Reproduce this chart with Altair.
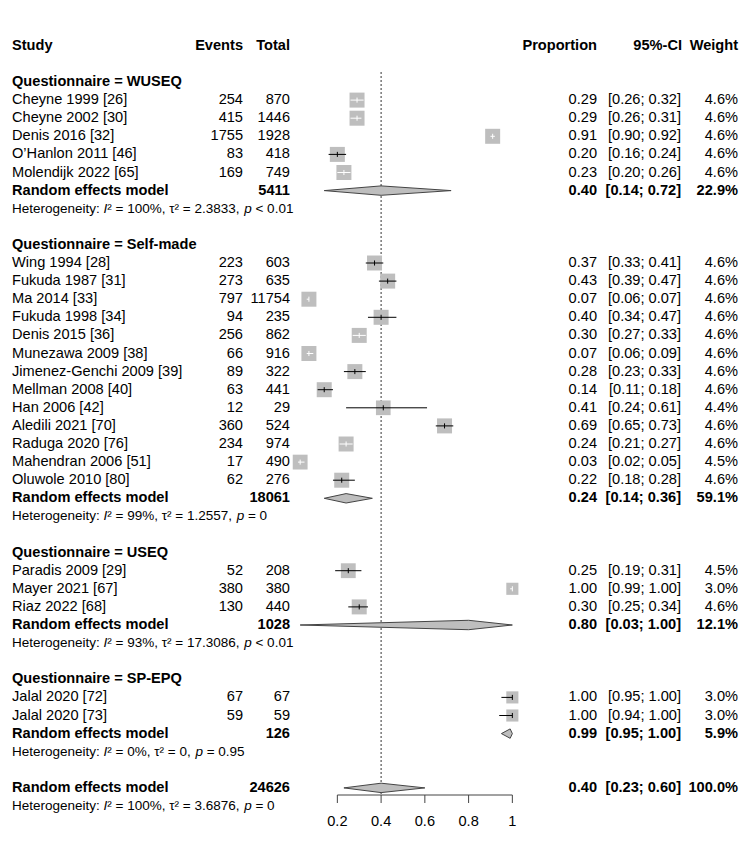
import altair as alt
import pandas as pd

# ---------------- data ----------------
groups = ["WUSEQ", "Self-made", "USEQ", "SP-EPQ"]
study_group = ["WUSEQ"] * 5 + ["Self-made"] * 13 + ["USEQ"] * 3 + ["SP-EPQ"] * 2
studies = [
    "Cheyne 1999 [26]", "Cheyne 2002 [30]", "Denis 2016 [32]", "O\u2019Hanlon 2011 [46]", "Molendijk 2022 [65]",
    "Wing 1994 [28]", "Fukuda 1987 [31]", "Ma 2014 [33]", "Fukuda 1998 [34]", "Denis 2015 [36]",
    "Munezawa 2009 [38]", "Jimenez-Genchi 2009 [39]", "Mellman 2008 [40]", "Han 2006 [42]",
    "Aledili 2021 [70]", "Raduga 2020 [76]", "Mahendran 2006 [51]", "Oluwole 2010 [80]",
    "Paradis 2009 [29]", "Mayer 2021 [67]", "Riaz 2022 [68]",
    "Jalal 2020 [72]", "Jalal 2020 [73]",
]
events = [254, 415, 1755, 83, 169,
          223, 273, 797, 94, 256, 66, 89, 63, 12, 360, 234, 17, 62,
          52, 380, 130,
          67, 59]
totals = [870, 1446, 1928, 418, 749,
          603, 635, 11754, 235, 862, 916, 322, 441, 29, 524, 974, 490, 276,
          208, 380, 440,
          67, 59]
prop = [0.29, 0.29, 0.91, 0.20, 0.23,
        0.37, 0.43, 0.07, 0.40, 0.30, 0.07, 0.28, 0.14, 0.41, 0.69, 0.24, 0.03, 0.22,
        0.25, 1.00, 0.30,
        1.00, 1.00]
lower = [0.26, 0.26, 0.90, 0.16, 0.20,
         0.33, 0.39, 0.06, 0.34, 0.27, 0.06, 0.23, 0.11, 0.24, 0.65, 0.21, 0.02, 0.18,
         0.19, 0.99, 0.25,
         0.95, 0.94]
upper = [0.32, 0.31, 0.92, 0.24, 0.26,
         0.41, 0.47, 0.07, 0.47, 0.33, 0.09, 0.33, 0.18, 0.61, 0.73, 0.27, 0.05, 0.28,
         0.31, 1.00, 0.34,
         1.00, 1.00]
weight = [4.6, 4.6, 4.6, 4.6, 4.6,
          4.6, 4.6, 4.6, 4.6, 4.6, 4.6, 4.6, 4.6, 4.4, 4.6, 4.6, 4.5, 4.6,
          4.5, 3.0, 4.6,
          3.0, 3.0]

group_total = [5411, 18061, 1028, 126]
group_prop = [0.40, 0.24, 0.80, 0.99]
group_lower = [0.14, 0.14, 0.03, 0.95]
group_upper = [0.72, 0.36, 1.00, 1.00]
group_weight = [22.9, 59.1, 12.1, 5.9]
group_i2 = ["100%", "99%", "93%", "0%"]
group_tau2 = ["2.3833", "1.2557", "17.3086", "0"]
group_p = ["< 0.01", "= 0", "< 0.01", "= 0.95"]

overall_total = 24626
overall_prop = 0.40
overall_lower = 0.23
overall_upper = 0.60
overall_weight = 100.0
overall_i2 = "100%"
overall_tau2 = "3.6876"
overall_p = "= 0"

tick_values = [0.2, 0.4, 0.6, 0.8, 1.0]
tick_labels = ["0.2", "0.4", "0.6", "0.8", "1"]

# ---------------- layout helpers ----------------
FONT = "Liberation Sans"
FS = 14.6
FS_HET = 13.5
STUDY_X, EVENTS_X, TOTAL_X = 4, 235, 282
PROP_X, CI_X, WEIGHT_X = 589, 673, 730
X_RANGE = [285.6, 504.35]
PX_PER_UNIT = X_RANGE[1] - X_RANGE[0]
Y_RANGE = [74, 798]
ROW_PX = (Y_RANGE[1] - Y_RANGE[0]) / 40.0
SQ_FULL = 225.0  # square area at 4.6%

W = {' ': 278, ':': 278, ',': 278, '.': 278, '=': 584, '<': 584, '%': 889, '\u00b2': 333,
     '\u03c4': 470, 'H': 722, 'e': 556, 't': 278, 'r': 333, 'o': 556, 'g': 556, 'n': 556,
     'i': 222, 'y': 500, 'I': 278, 'p': 556}


def tw(s, size):
    return sum(W.get(c, 556) for c in s) * size / 1000.0


texts = []    # row, px, txt, kind
sq = []       # studies
diam = []     # summary diamonds


def add_text(row, px, txt, kind):
    texts.append(dict(row=row, px=px, txt=txt, kind=kind))


def add_het(row, i2, tau2, p):
    x = STUDY_X
    seg0 = "Heterogeneity: "
    add_text(row, x, seg0.strip(), "het")
    x += tw(seg0, FS_HET)
    add_text(row, x, "I", "het_i")
    x += tw("I", FS_HET)
    seg2 = "\u00b2 = " + i2 + ", \u03c4\u00b2 = " + tau2 + ", "
    add_text(row, x, seg2.strip(), "het")
    x += tw(seg2, FS_HET)
    add_text(row, x, "p", "het_i")
    x += tw("p ", FS_HET)
    add_text(row, x, p, "het")


def add_summary(row, label, total, est, lo, hi, w, key):
    add_text(row, STUDY_X, label, "bold_l")
    add_text(row, TOTAL_X, str(total), "bold_r")
    add_text(row, PROP_X, f"{est:.2f}", "bold_r")
    add_text(row, CI_X, f"[{lo:.2f}; {hi:.2f}]", "bold_r")
    add_text(row, WEIGHT_X, f"{w:.1f}%", "bold_r")
    h = 0.26
    diam.extend([
        dict(key=key, x=lo, y=row, y2=row),
        dict(key=key, x=est, y=row - h, y2=row + h),
        dict(key=key, x=hi, y=row, y2=row),
    ])


# header
add_text(-2, STUDY_X, "Study", "bold_l")
add_text(-2, EVENTS_X, "Events", "bold_r")
add_text(-2, TOTAL_X, "Total", "bold_r")
add_text(-2, PROP_X, "Proportion", "bold_r")
add_text(-2, CI_X + 1, "95%-CI", "bold_r")
add_text(-2, WEIGHT_X, "Weight", "bold_r")

row = 0
for gi, g in enumerate(groups):
    add_text(row, STUDY_X, "Questionnaire = " + g, "bold_l")
    row += 1
    for i, sg in enumerate(study_group):
        if sg != g:
            continue
        add_text(row, STUDY_X, studies[i], "plain_l")
        add_text(row, EVENTS_X, str(events[i]), "plain_r")
        add_text(row, TOTAL_X, str(totals[i]), "plain_r")
        add_text(row, PROP_X, f"{prop[i]:.2f}", "plain_r")
        add_text(row, CI_X, f"[{lower[i]:.2f}; {upper[i]:.2f}]", "plain_r")
        add_text(row, WEIGHT_X, f"{weight[i]:.1f}%", "plain_r")
        side = (SQ_FULL * weight[i] / 4.6) ** 0.5
        hw = side / 2.0 / PX_PER_UNIT
        inside = lower[i] >= prop[i] - hw and upper[i] <= prop[i] + hw
        sq.append(dict(row=row, p=prop[i], lo=lower[i], hi=upper[i], w=weight[i],
                       lc="white" if inside else "black",
                       t1=row - 0.14, t2=row + 0.14))
        row += 1
    add_summary(row, "Random effects model", group_total[gi], group_prop[gi],
                group_lower[gi], group_upper[gi], group_weight[gi], g)
    row += 1
    add_het(row, group_i2[gi], group_tau2[gi], group_p[gi])
    row += 2

add_summary(row, "Random effects model", overall_total, overall_prop,
            overall_lower, overall_upper, overall_weight, "overall")
add_het(row + 1, overall_i2, overall_tau2, overall_p)

axis_row = (795 - 8 - Y_RANGE[0]) / ROW_PX
tick_end = axis_row + 8 / ROW_PX
label_row = axis_row + 27 / ROW_PX
top_row = (72 - 8 - Y_RANGE[0]) / ROW_PX

texts_df = pd.DataFrame(texts)
sq_df = pd.DataFrame(sq)
diam_df = pd.DataFrame(diam)
ticks_df = pd.DataFrame(dict(v=tick_values, lab=tick_labels, y=axis_row, y2=tick_end, ly=label_row))
axis_df = pd.DataFrame(dict(x=[min(tick_values)], x2=[max(tick_values)], y=[axis_row]))
ref_df = pd.DataFrame(dict(x=[overall_prop], y=[top_row], y2=[axis_row]))

xs = alt.Scale(domain=[0, 1], range=X_RANGE, nice=False, zero=False)
ys = alt.Scale(domain=[0, 40], range=Y_RANGE, nice=False, zero=False)


def X(f):
    return alt.X(f, scale=xs, axis=None)


def Y(f):
    return alt.Y(f, scale=ys, axis=None)


def text_layer(kind, align, fw="normal", style="normal", size=FS):
    return alt.Chart(texts_df).transform_filter(alt.datum.kind == kind).mark_text(
        align=align, baseline="middle", font=FONT, fontSize=size, fontWeight=fw,
        fontStyle=style, color="black"
    ).encode(
        x=alt.X("px:Q", scale=None, axis=None),
        y=Y("row:Q"),
        text="txt:N",
    )


ref = alt.Chart(ref_df).mark_rule(color="#333333", strokeDash=[2, 2], strokeWidth=1).encode(
    x=X("x:Q"), y=Y("y:Q"), y2="y2:Q")

squares = alt.Chart(sq_df).mark_square(color="#BEBEBE", opacity=1, filled=True).encode(
    x=X("p:Q"), y=Y("row:Q"),
    size=alt.Size("w:Q", scale=alt.Scale(domain=[0, 4.6], range=[0, SQ_FULL], zero=True), legend=None),
)

ci = alt.Chart(sq_df).mark_rule(strokeWidth=1).encode(
    x=X("lo:Q"), x2="hi:Q", y=Y("row:Q"),
    color=alt.Color("lc:N", scale=None),
)
ci_tick = alt.Chart(sq_df).mark_rule(strokeWidth=1).encode(
    x=X("p:Q"), y=Y("t1:Q"), y2="t2:Q",
    color=alt.Color("lc:N", scale=None),
)

diamonds = alt.Chart(diam_df).mark_area(
    orient="vertical", fill="#BEBEBE", stroke="#444444", strokeWidth=1, opacity=1
).encode(
    x=X("x:Q"), y=Y("y:Q"), y2="y2:Q", detail="key:N",
)

axis_line = alt.Chart(axis_df).mark_rule(color="#444444", strokeWidth=1).encode(
    x=X("x:Q"), x2="x2:Q", y=Y("y:Q"))
axis_ticks = alt.Chart(ticks_df).mark_rule(color="#444444", strokeWidth=1).encode(
    x=X("v:Q"), y=Y("y:Q"), y2="y2:Q")
axis_labels = alt.Chart(ticks_df).mark_text(
    align="center", baseline="middle", font=FONT, fontSize=FS, color="black"
).encode(x=X("v:Q"), y=Y("ly:Q"), text="lab:N")

chart = alt.layer(
    ref, squares, ci, ci_tick, diamonds, axis_line, axis_ticks, axis_labels,
    text_layer("bold_l", "left", fw="bold"),
    text_layer("bold_r", "right", fw="bold"),
    text_layer("plain_l", "left"),
    text_layer("plain_r", "right"),
    text_layer("het", "left", size=FS_HET),
    text_layer("het_i", "left", style="italic", size=FS_HET),
).resolve_scale(x="independent").properties(
    width=734, height=832, autosize=alt.AutoSizeParams(type="none"), padding=0,
    background="white",
).configure_view(stroke=None)

chart.save("out.html", embed_options={"renderer": "svg", "actions": False})
